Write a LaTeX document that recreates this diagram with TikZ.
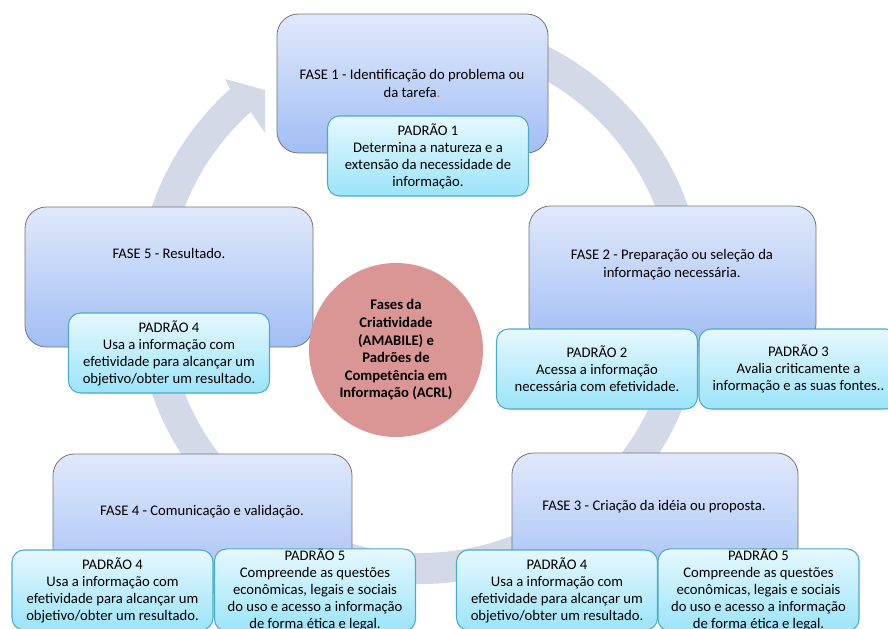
\documentclass[tikz,border=0pt]{standalone}
\usepackage{fontspec}
\setmainfont{Carlito}
\usetikzlibrary{calc}

\definecolor{anel}{RGB}{211,217,230}
\definecolor{fasetopo}{RGB}{224,233,251}
\definecolor{fasebase}{RGB}{162,190,245}
\definecolor{padtopo}{RGB}{230,248,253}
\definecolor{padbase}{RGB}{155,228,249}
\definecolor{padborda}{RGB}{75,172,198}
\definecolor{centro}{RGB}{217,150,149}
\definecolor{ponto}{RGB}{204,120,60}

\begin{document}
\begin{tikzpicture}[x=0.75pt, y=-0.75pt,
                fase/.style={draw=black!55, line width=0.6pt, rounded corners=16pt,
                             top color=fasetopo, bottom color=fasebase, minimum height=104.25pt},
                padrao/.style={draw=padborda, line width=0.8pt, rounded corners=9pt,
                               top color=padtopo, bottom color=padbase,
                               minimum width=150.75pt, minimum height=60pt, inner sep=0pt,
                               align=center, font=\fontsize{11}{12.75}\selectfont},
                rotulo/.style={align=center, font=\fontsize{11}{13.5}\selectfont}]

                \useasboundingbox (0,0) rectangle (888,628);
                \clip (0,0) rectangle (888,628);

                % circular arrow behind everything
                \coordinate (eixo) at (420,300);
                \fill[anel] ($(eixo)+(-70:284)$) arc[start angle=-70, end angle=228, radius=284]
                        -- (225,79) -- (265,90) -- (265,133) -- ($(eixo)+(228:253)$)
                        arc[start angle=228, end angle=-70, radius=253] -- cycle;

                % phases
                \node[fase, minimum width=203.25pt] (F1) at (412.5,83.5) {};
                \node[fase, minimum width=215.25pt] (F2) at (672.5,275.5) {};
                \node[fase, minimum width=214.5pt] (F3) at (655,522.5) {};
                \node[fase, minimum width=224.25pt] (F4) at (202.5,523.5) {};
                \node[fase, minimum width=216pt, minimum height=105pt] (F5) at (169,277) {};

                \node[rotulo] (F1t) at (412,83) {FASE 1 - Identificação do problema ou\\da tarefa{\color{ponto}.}};
                \node[rotulo] (F2t) at (672,265) {FASE 2 - Preparação ou seleção da\\informação necessária.};
                \node[rotulo] (F3t) at (654,507) {FASE 3 - Criação da idéia ou proposta.};
                \node[rotulo] (F4t) at (202,512) {FASE 4 - Comunicação e validação.};
                \node[rotulo] (F5t) at (169,253) {FASE 5 - Resultado.};

                % standards
                \node[padrao] (P1) at (428,156) {PADRÃO 1\\Determina a natureza e a\\extensão da necessidade de\\informação.};
                \node[padrao] (P2) at (597,369) {PADRÃO 2\\Acessa a informação\\necessária com efetividade.};
                \node[padrao, minimum width=149.25pt] (P3) at (798.5,369) {PADRÃO 3\\Avalia criticamente a\\informação e as suas fontes..};
                \node[padrao] (P4a) at (169,353) {PADRÃO 4\\Usa a informação com\\efetividade para alcançar um\\objetivo/obter um resultado.};
                \node[padrao] (P4b) at (112.5,590) {PADRÃO 4\\Usa a informação com\\efetividade para alcançar um\\objetivo/obter um resultado.};
                \node[padrao] (P5b) at (315,590) {PADRÃO 5\\Compreende as questões\\econômicas, legais e sociais\\do uso e acesso a informação\\de forma ética e legal.};
                \node[padrao] (P4c) at (557,590) {PADRÃO 4\\Usa a informação com\\efetividade para alcançar um\\objetivo/obter um resultado.};
                \node[padrao] (P5c) at (758.5,590) {PADRÃO 5\\Compreende as questões\\econômicas, legais e sociais\\do uso e acesso a informação\\de forma ética e legal.};

                % centre
                \node[circle, fill=centro, minimum size=130.5pt, inner sep=0pt, align=center,
                      font=\bfseries\fontsize{11}{13.2}\selectfont] (C) at (396,350)
                      {Fases da\\Criatividade\\(AMABILE) e\\Padrões de\\Competência em\\Informação (ACRL)};
\end{tikzpicture}
\end{document}
